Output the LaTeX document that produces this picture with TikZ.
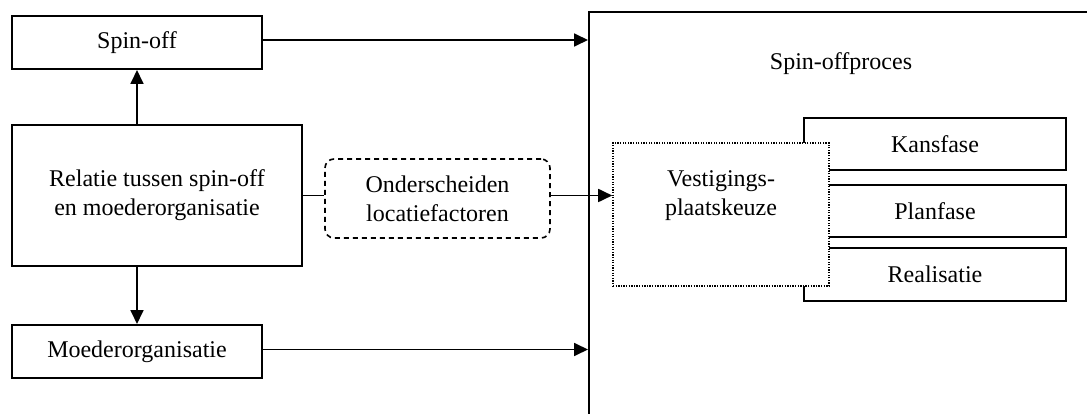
\documentclass[tikz,border=0pt]{standalone}
\usepackage{fontspec}
\setmainfont{Liberation Serif}
\usetikzlibrary{arrows.meta}
\begin{document}
\begin{tikzpicture}[x=1pt,y=-1pt,
  every node/.style={font=\fontsize{24}{29}\selectfont, align=center, inner sep=0pt},
  box/.style={draw, line width=2pt, rectangle, fill=white},
  dbox/.style={draw, line width=1.6pt, dash pattern=on 5pt off 4pt, rounded corners=9pt, fill=white},
  obox/.style={draw, line width=1.6pt, dash pattern=on 1.3pt off 1.3pt, fill=white},
  conn/.style={line width=1.8pt},
  arr/.style={line width=1.8pt, -{Triangle[length=14pt,width=13pt]}}]
\useasboundingbox (0,0) rectangle (1087,414);
\clip (0,0) rectangle (1087,414);
\node[box, minimum width=250pt, minimum height=53pt] (spin) at (137,42.5) {Spin-off};
\node[box, minimum width=290pt, minimum height=141pt] (rel) at (157,195.5) {Relatie tussen spin-off\\en moederorganisatie};
\node[box, minimum width=250pt, minimum height=53pt] (moe) at (137,351.5) {Moederorganisatie};
\node[draw, line width=2pt, minimum width=520pt, minimum height=430pt, anchor=north west] (proc) at (588,11) {};
\node (proctxt) at (841,64) {Spin-offproces};
\node[box, minimum width=262pt, minimum height=52pt] (kans) at (935,144) {Kansfase};
\node[box, minimum width=262pt, minimum height=52pt] (plan) at (935,211) {Planfase};
\node[box, minimum width=262pt, minimum height=53pt] (real) at (935,274.5) {Realisatie};
\node[obox, minimum width=216pt, minimum height=143pt] (vest) at (721,214.5) {Vestigings-\\plaatskeuze\\[14pt]};
\node[dbox, minimum width=225pt, minimum height=79pt] (loc) at (437.5,198.5) {Onderscheiden\\locatiefactoren};
\draw[arr] ([yshift=2.5pt]spin.east) -- ([yshift=2.5pt]spin.east -| proc.west);
\draw[arr] ([yshift=2pt]moe.east) -- ([yshift=2pt]moe.east -| proc.west);
\draw[arr] (rel.north -| spin.south) -- (spin.south);
\draw[arr] (rel.south -| moe.north) -- (moe.north);
\draw[conn] (rel.east) -- (rel.east -| loc.west);
\draw[arr] (loc.east |- rel.east) -- (rel.east -| vest.west);
\end{tikzpicture}
\end{document}
